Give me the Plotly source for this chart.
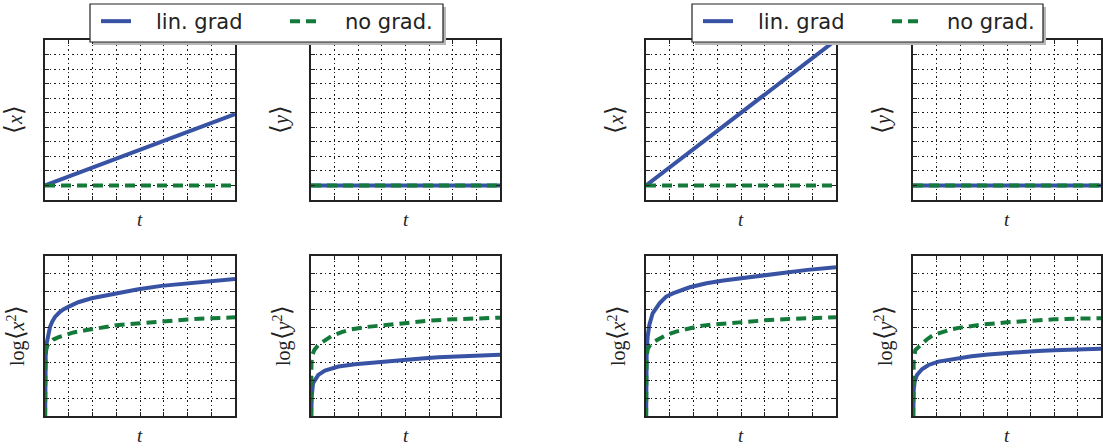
import plotly.graph_objects as go

W, H = 1103, 448

BLUE = "#3953a4"
GREEN = "#137a3a"

# ---- time axis ----
t_line = [0, 8]

# ---- first-moment panels: <x>, <y> (scenario 1 and 2) ----
mx_lin_1 = [0.0, 4.9]
mx_none_1 = [0.0, 0.0]
my_lin_1 = [0.0, 0.0]
my_none_1 = [0.0, 0.0]

mx_lin_2 = [0.0, 10.0]
mx_none_2 = [0.0, 0.0]
my_lin_2 = [0.0, 0.0]
my_none_2 = [0.0, 0.0]

# ---- second-moment panels: log<x^2>, log<y^2> ----
t_x2_lin_1 = [0, 0.01, 0.03, 0.07, 0.14, 0.21, 0.3, 0.42, 0.6, 0.77, 1.0, 1.4, 1.96, 2.95, 3.93, 4.9, 5.96, 6.95, 8.0]
x2_lin_1 = [-1, 2.4, 3.4, 4.09, 4.65, 5.0, 5.3, 5.57, 5.82, 6.0, 6.15, 6.4, 6.62, 6.9, 7.13, 7.32, 7.47, 7.6, 7.71]
t_x2_none_1 = [0, 0.005, 0.02, 0.05, 0.1, 0.2, 0.35, 0.55, 0.8, 1.2, 1.7, 2.3, 3, 4, 5, 6, 7, 8]
x2_none_1 = [-1, 2.6, 3.3, 3.75, 3.95, 4.12, 4.3, 4.42, 4.55, 4.7, 4.82, 4.96, 5.1, 5.22, 5.34, 5.43, 5.5, 5.55]

t_y2_lin_1 = [0, 0.01, 0.03, 0.085, 0.17, 0.31, 0.59, 0.87, 1.16, 1.86, 2.57, 3.27, 3.98, 4.68, 5.39, 6.09, 6.8, 8]
y2_lin_1 = [-1, 0.4, 1.09, 1.84, 2.06, 2.31, 2.55, 2.68, 2.78, 2.91, 3.0, 3.1, 3.15, 3.23, 3.3, 3.34, 3.38, 3.45]
t_y2_none_1 = [0, 0.005, 0.02, 0.06, 0.14, 0.31, 0.6, 0.87, 1.3, 1.65, 2.3, 3.1, 4, 5, 6, 7, 8]
y2_none_1 = [-1, 2.3, 3.0, 3.45, 3.71, 4.0, 4.28, 4.5, 4.72, 4.86, 5.0, 5.12, 5.26, 5.36, 5.44, 5.5, 5.53]

t_x2_lin_2 = [0, 0.01, 0.03, 0.07, 0.14, 0.28, 0.57, 0.85, 1.13, 1.84, 2.55, 3.26, 3.97, 4.67, 5.38, 6.09, 6.8, 8]
x2_lin_2 = [-1, 2.6, 3.71, 4.47, 5.12, 5.78, 6.34, 6.72, 6.9, 7.24, 7.47, 7.62, 7.75, 7.88, 7.99, 8.1, 8.22, 8.37]
t_x2_none_2 = [0, 0.005, 0.02, 0.07, 0.15, 0.3, 0.57, 0.85, 1.27, 1.7, 2.3, 3.1, 4, 5, 6, 7, 8]
x2_none_2 = [-1, 2.4, 3.15, 3.75, 3.95, 4.15, 4.37, 4.56, 4.75, 4.88, 5.07, 5.18, 5.29, 5.38, 5.46, 5.52, 5.55]

t_y2_lin_2 = [0, 0.01, 0.03, 0.07, 0.17, 0.38, 0.66, 1.08, 1.79, 2.49, 3.2, 3.9, 4.6, 5.31, 6.01, 6.72, 8]
y2_lin_2 = [-1, 0.8, 1.46, 1.93, 2.31, 2.63, 2.87, 3.06, 3.23, 3.36, 3.46, 3.54, 3.6, 3.66, 3.7, 3.73, 3.78]
t_y2_none_2 = [0, 0.005, 0.03, 0.1, 0.31, 0.6, 0.87, 1.3, 1.65, 2, 2.35, 3, 4, 5, 6, 7, 8]
y2_none_2 = [-1, 2.4, 3.15, 3.71, 4.0, 4.32, 4.56, 4.75, 4.88, 4.97, 5.05, 5.15, 5.27, 5.36, 5.44, 5.48, 5.5]

legend_labels = ["lin. grad", "no grad."]

# ---- panel geometry in pixels (left, right, top, bottom) ----
cols = [(45, 235), (311, 500), (646, 836), (913, 1101)]
rows = [(40, 200), (256, 416)]

# legend frames in pixels (left, right, top, bottom)
legend_frames = [(90, 443, 4, 42), (692, 1043, 4, 42)]

BR = "<span style='font-size:25px'>{}</span>"
LA, RA = BR.format("⟨"), BR.format("⟩")


def ylab(var, squared):
    if squared:
        return "log" + LA + f"<i>{var}</i><sup>2</sup>" + RA
    return LA + f"<i>{var}</i>" + RA


fig = go.Figure()

panels = [
    # (col, row, lin trace, none trace, legend name, y range, ylabel)
    (0, 0, (t_line, mx_lin_1), (t_line, mx_none_1), "legend", [-1, 10], ylab("x", False)),
    (1, 0, (t_line, my_lin_1), (t_line, my_none_1), "legend", [-1, 10], ylab("y", False)),
    (2, 0, (t_line, mx_lin_2), (t_line, mx_none_2), "legend2", [-1, 10], ylab("x", False)),
    (3, 0, (t_line, my_lin_2), (t_line, my_none_2), "legend2", [-1, 10], ylab("y", False)),
    (0, 1, (t_x2_lin_1, x2_lin_1), (t_x2_none_1, x2_none_1), "legend", [0, 9], ylab("x", True)),
    (1, 1, (t_y2_lin_1, y2_lin_1), (t_y2_none_1, y2_none_1), "legend", [0, 9], ylab("y", True)),
    (2, 1, (t_x2_lin_2, x2_lin_2), (t_x2_none_2, x2_none_2), "legend2", [0, 9], ylab("x", True)),
    (3, 1, (t_y2_lin_2, y2_lin_2), (t_y2_none_2, y2_none_2), "legend2", [0, 9], ylab("y", True)),
]

pad = "\u00a0\u00a0\u00a0"
shown = set()
annotations = []
frame = "#222222"
for i, (c, r, lin, none, leg, yr, ylabel) in enumerate(panels, start=1):
    xa = "x" if i == 1 else f"x{i}"
    ya = "y" if i == 1 else f"y{i}"
    first = leg not in shown
    shown.add(leg)
    fig.add_trace(go.Scatter(
        x=lin[0], y=lin[1], xaxis=xa, yaxis=ya, mode="lines",
        line=dict(color=BLUE, width=4), name=pad + legend_labels[0],
        legend=leg, showlegend=first, hoverinfo="skip"))
    fig.add_trace(go.Scatter(
        x=none[0], y=none[1], xaxis=xa, yaxis=ya, mode="lines",
        line=dict(color=GREEN, width=4, dash="10px,6px"), name=pad + legend_labels[1],
        legend=leg, showlegend=first, hoverinfo="skip"))

    x0, x1 = cols[c]
    y0, y1 = rows[r]
    axis_common = dict(
        showline=True, linecolor=frame, linewidth=1.5, mirror="allticks",
        ticks="inside", ticklen=4, tickwidth=1, tickcolor=frame,
        showticklabels=False, showgrid=True, gridcolor="#1a1a1a",
        gridwidth=1, griddash="1.5px,3px", zeroline=False, dtick=1, tick0=0,
    )
    fig.layout[f"xaxis{'' if i == 1 else i}"] = dict(
        domain=[x0 / W, x1 / W], anchor=ya, range=[0, 8], **axis_common)
    fig.layout[f"yaxis{'' if i == 1 else i}"] = dict(
        domain=[1 - y1 / H, 1 - y0 / H], anchor=xa, range=yr, **axis_common)

    annotations.append(dict(
        text="<i>t</i>", x=(x0 + x1) / 2 / W, y=1 - (y1 + 19) / H,
        xref="paper", yref="paper", showarrow=False,
        xanchor="center", yanchor="middle",
        font=dict(family="Liberation Serif", size=19, color="#222")))
    annotations.append(dict(
        text=ylabel, x=(x0 - (31 if r == 0 else 30)) / W, y=1 - (y0 + y1) / 2 / H,
        xref="paper", yref="paper", showarrow=False, textangle=-90,
        xanchor="center", yanchor="middle",
        font=dict(family="Liberation Serif", size=20, color="#222")))

legend_style = dict(
    orientation="h", xanchor="left", yanchor="top",
    font=dict(family="DejaVu Sans", size=21, color="#222"),
    bgcolor="rgba(0,0,0,0)", borderwidth=0,
    itemwidth=30, entrywidth=144, entrywidthmode="pixels",
)

shapes = []
for (lx0, lx1, ly0, ly1) in legend_frames:
    # drop shadow, then the white frame on top of it
    shapes.append(dict(type="rect", xref="paper", yref="paper", layer="above",
                       x0=(lx0 + 3) / W, x1=(lx1 + 3) / W,
                       y0=1 - (ly1 + 3) / H, y1=1 - (ly0 + 3) / H,
                       fillcolor="#b8b8b8", line=dict(width=0)))
    shapes.append(dict(type="rect", xref="paper", yref="paper", layer="above",
                       x0=lx0 / W, x1=lx1 / W, y0=1 - ly1 / H, y1=1 - ly0 / H,
                       fillcolor="white", line=dict(color="#222", width=1.2)))

fig.update_layout(
    width=W, height=H, margin=dict(l=0, r=0, t=0, b=0, autoexpand=False),
    paper_bgcolor="white", plot_bgcolor="white",
    legend=dict(x=96 / W, y=1 - 1 / H, **legend_style),
    legend2=dict(x=698 / W, y=1 - 1 / H, **legend_style),
    annotations=annotations,
    shapes=shapes,
    showlegend=True,
)

fig.write_html("out.html")
